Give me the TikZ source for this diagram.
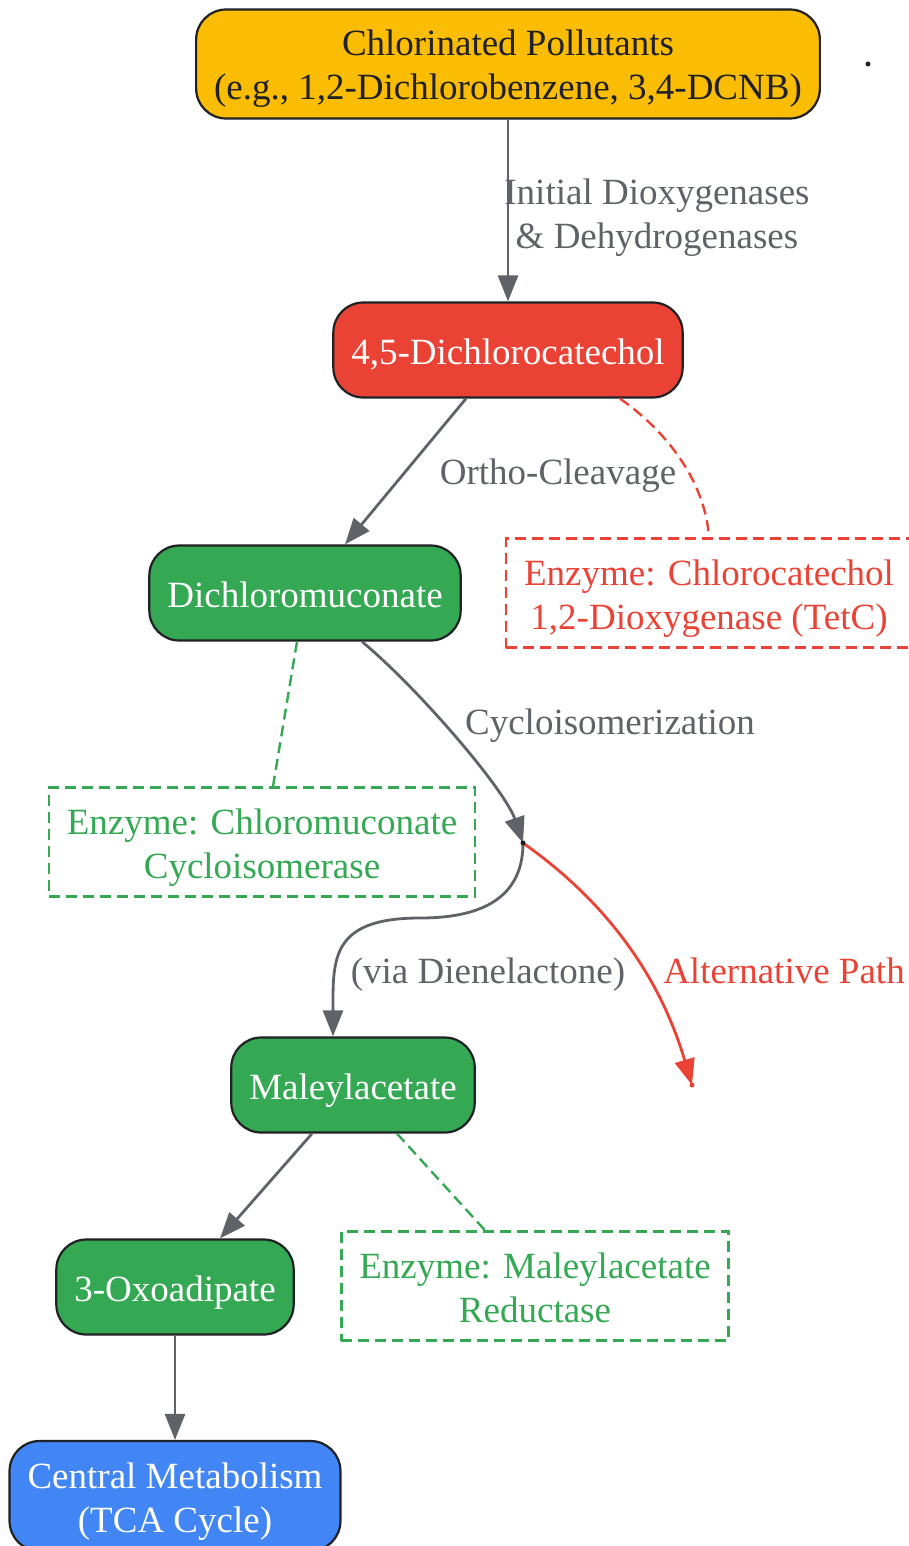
\documentclass[tikz,border=0pt]{standalone}
\usepackage{fontspec}
\setmainfont{Liberation Serif}
\usetikzlibrary{arrows.meta}

\definecolor{gyellow}{HTML}{FBBC04}
\definecolor{gred}{HTML}{EA4335}
\definecolor{ggreen}{HTML}{34A853}
\definecolor{gblue}{HTML}{4285F4}
\definecolor{edgegray}{HTML}{5F6368}
\definecolor{darktext}{HTML}{202124}

\begin{document}
\begin{tikzpicture}[x=1pt, y=-1pt,
    every node/.style={font=\fontsize{37}{44}\selectfont, align=center, text height=33pt, text depth=5pt},
    twoline/.style={text height=77pt},
    stage/.style={draw=darktext, line width=2.2pt, rounded corners=30pt, minimum height=95pt, inner xsep=18pt, inner ysep=6pt, text=white},
    enzyme/.style={twoline, line width=2.4pt, dash pattern=on 11pt off 6pt, minimum height=109pt, inner xsep=18pt, inner ysep=6pt},
    flow/.style={draw=edgegray, line width=2.8pt, -{Triangle[length=26pt,width=20pt]}},
    helper/.style={line width=2.4pt, dash pattern=on 11pt off 6pt},
    lbl/.style={text=edgegray}]
            \useasboundingbox (0,0) rectangle (909,1546);

            % pathway stages
            \node[stage, twoline, fill=gyellow, text=darktext, minimum height=109pt] (src) at (508,64) {Chlorinated Pollutants\\(e.g., 1,2-Dichlorobenzene, 3,4-DCNB)};
            \node[stage, fill=gred] (dcc) at (508,350) {4,5-Dichlorocatechol};
            \node[stage, fill=ggreen] (dcm) at (305,593) {Dichloromuconate};
            \node[stage, fill=ggreen] (mal) at (353,1085) {Maleylacetate};
            \node[stage, fill=ggreen] (oxo) at (175,1287) {3-Oxoadipate};
            \node[stage, twoline, fill=gblue, minimum height=110pt] (tca) at (175,1496) {Central Metabolism\\(TCA Cycle)};

            % enzymes
            \node[enzyme, draw=gred, text=gred] (enzA) at (709,593) {Enzyme: Chlorocatechol\\1,2-Dioxygenase (TetC)};
            \node[enzyme, draw=ggreen, text=ggreen] (enzB) at (262,842) {Enzyme: Chloromuconate\\Cycloisomerase};
            \node[enzyme, draw=ggreen, text=ggreen] (enzC) at (535,1286) {Enzyme: Maleylacetate\\Reductase};

            \coordinate (junc) at (523,843);
            \coordinate (altend) at (692,1085);
            \coordinate (stray) at (868,64);

            \draw[flow] (src) -- (dcc);
            \draw[flow] ([xshift=-42pt]dcc.south) -- ([xshift=40pt]dcm.north);
            \draw[helper, gred] ([xshift=112pt]dcc.south) .. controls (665,430) and (705,480) .. (enzA.north);

            \draw[flow] ([xshift=57pt]dcm.south) .. controls (420,690) and (505,790) .. (junc);
            \draw[helper, ggreen] ([xshift=-8pt]dcm.south) -- ([xshift=11pt]enzB.north);

            \draw[flow] (junc) .. controls (523,905) and (470,918) .. (420,918) .. controls (330,918) and (333,960) .. ([xshift=-20pt]mal.north);
            \draw[flow, draw=gred] (junc) .. controls (590,890) and (655,960) .. (altend);

            \draw[flow] ([xshift=-41pt]mal.south) -- ([xshift=45pt]oxo.north);
            \draw[helper, ggreen] ([xshift=44pt]mal.south) -- ([xshift=-50pt]enzC.north);
            \draw[flow] (oxo) -- (tca);

            \fill[darktext] (junc) circle (2.5pt);
            \fill[gred] (altend) circle (2.5pt);
            \fill[darktext] (stray) circle (2.5pt);

            % edge labels
            \node[lbl, twoline] (l1) at (657,213) {Initial Dioxygenases\\\& Dehydrogenases};
            \node[lbl] (l2) at (558,470) {Ortho-Cleavage};
            \node[lbl] (l3) at (610,720) {Cycloisomerization};
            \node[lbl] (l4) at (488,969) {(via Dienelactone)};
            \node[lbl, text=gred] (l5) at (784,969) {Alternative Path};
        \end{tikzpicture}
\end{document}
